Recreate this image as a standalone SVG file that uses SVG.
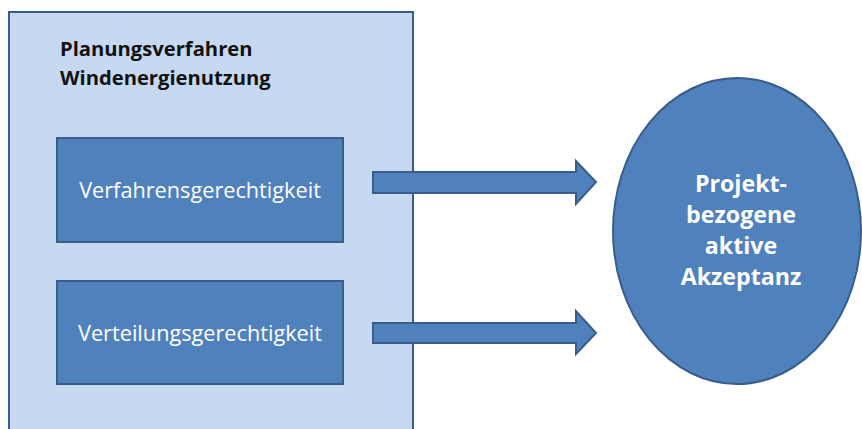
<svg xmlns="http://www.w3.org/2000/svg" width="862" height="429" viewBox="0 0 862 429">
<style>
.box{fill:#4f81bd;stroke:#385d8a;stroke-width:2}
.lbl{font-family:"Open Sans","Liberation Sans",sans-serif;font-size:21.7px;fill:#ffffff;text-anchor:middle}
.title{font-family:"Open Sans","Liberation Sans",sans-serif;font-size:20.2px;font-weight:bold;fill:#111111}
.big{font-family:"Open Sans","Liberation Sans",sans-serif;font-size:23.2px;font-weight:bold;fill:#ffffff;text-anchor:middle}
</style>
<rect width="862" height="429" fill="#ffffff"/>
<g id="container">
<rect x="9" y="12" width="404" height="430" fill="#c6d9f1" stroke="#385d8a" stroke-width="2"/>
<text class="title" x="60" y="56">Planungsverfahren</text>
<text class="title" x="60" y="85">Windenergienutzung</text>
</g>
<g id="node-verfahren">
<rect class="box" x="57" y="138" width="286" height="104"/>
<text class="lbl" x="200" y="198">Verfahrensgerechtigkeit</text>
</g>
<g id="node-verteilung">
<rect class="box" x="57" y="281" width="286" height="103"/>
<text class="lbl" x="200" y="341">Verteilungsgerechtigkeit</text>
</g>
<g id="connectors">
<polygon class="box" points="373,172 576,172 576,161 596,182 576,204 576,193 373,193"/>
<polygon class="box" points="373,323 576,323 576,311 596,333 576,354 576,343 373,343"/>
</g>
<g id="node-akzeptanz">
<ellipse class="box" cx="737" cy="231" rx="124" ry="153"/>
<text class="big" x="741" y="192">Projekt-</text>
<text class="big" x="741" y="223">bezogene</text>
<text class="big" x="741" y="254">aktive</text>
<text class="big" x="741" y="285">Akzeptanz</text>
</g>
</svg>
